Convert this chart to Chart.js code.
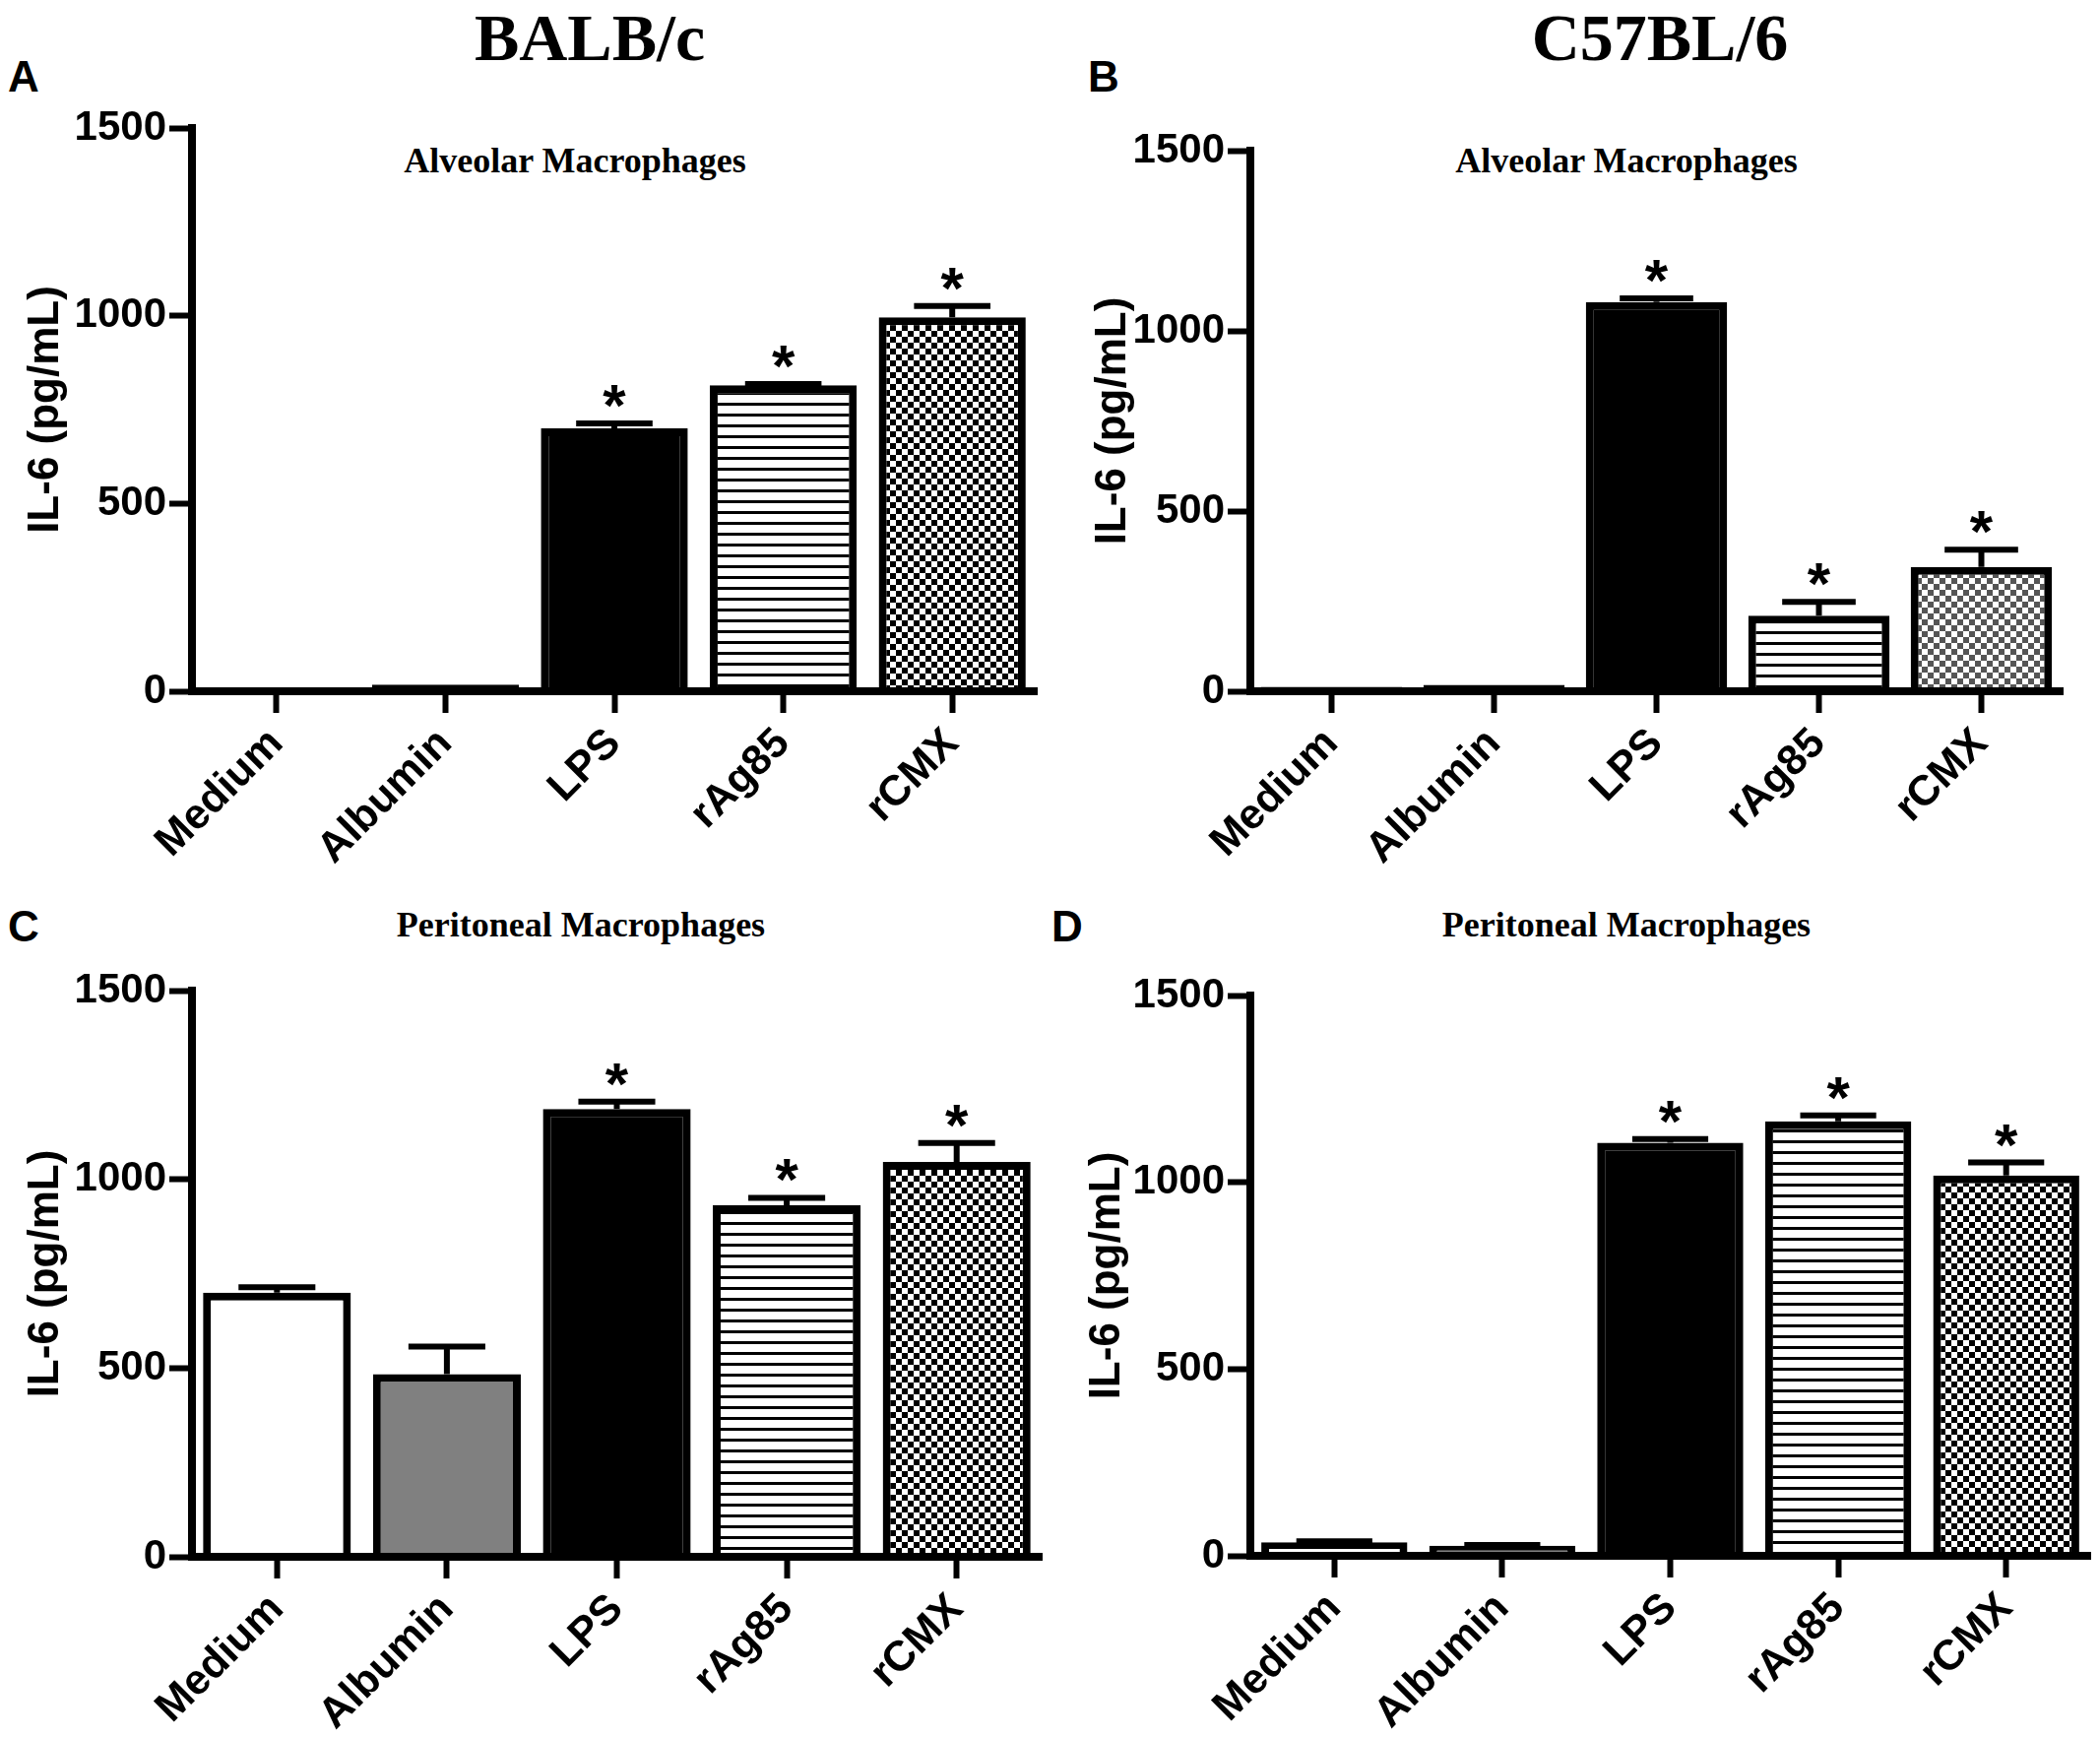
<!DOCTYPE html>
<html>
<head>
<meta charset="utf-8">
<script src="https://cdn.jsdelivr.net/npm/chart.js@4.4.0/dist/chart.umd.min.js"></script>
<style>
  body { margin: 0; background: #fff; width: 2133px; height: 1764px; position: relative; overflow: hidden; }
  .t { position: absolute; color: #000; white-space: nowrap; line-height: 1; transform: translate(-50%, -50%); }
  .serif { font-family: "Liberation Serif", "Times New Roman", serif; font-weight: bold; }
  .letter { position: absolute; color: #000; font-family: "Liberation Sans", Arial, sans-serif; font-weight: bold; font-size: 44px; line-height: 1; transform: translateY(-50%); }
  canvas { position: absolute; }
</style>
</head>
<body>
<div class="t serif" style="left:599px;top:38px;font-size:68px">BALB/c</div>
<div class="t serif" style="left:1686px;top:38px;font-size:68px">C57BL/6</div>
<div class="letter" style="left:8px;top:78px">A</div>
<div class="letter" style="left:1105px;top:78px">B</div>
<div class="letter" style="left:8px;top:941px">C</div>
<div class="letter" style="left:1068px;top:941px">D</div>
<div class="t serif" style="left:584px;top:163px;font-size:36px">Alveolar Macrophages</div>
<div class="t serif" style="left:1652px;top:163px;font-size:36px">Alveolar Macrophages</div>
<div class="t serif" style="left:590px;top:939px;font-size:36px">Peritoneal Macrophages</div>
<div class="t serif" style="left:1652px;top:939px;font-size:36px">Peritoneal Macrophages</div>

<canvas id="chartA"></canvas>
<canvas id="chartB"></canvas>
<canvas id="chartC"></canvas>
<canvas id="chartD"></canvas>

<script>
// data (IL-6, pg/mL, mean and SEM)
const categories = ['Medium', 'Albumin', 'LPS', 'rAg85', 'rCMX'];
const yTicks = [0, 500, 1000, 1500];

const balbAlveolar = [1, 18, 700, 815, 996];
const balbAlveolarSem = [0, 0, 13, 3, 30];
const balbAlveolarStars = [false, false, true, true, true];

const c57Alveolar = [12, 18, 1080, 210, 345];
const c57AlveolarSem = [0, 0, 10, 38, 48];
const c57AlveolarStars = [false, false, true, true, true];

const balbPeritoneal = [700, 484, 1186, 931, 1046];
const balbPeritonealSem = [14, 73, 20, 20, 50];
const balbPeritonealStars = [false, false, true, true, true];

const c57Peritoneal = [36, 27, 1106, 1163, 1018];
const c57PeritonealSem = [3, 2, 10, 16, 35];
const c57PeritonealStars = [false, false, true, true, true];

const SANS = '"Liberation Sans", Arial, sans-serif';

function stripePattern() {
  const c = document.createElement('canvas');
  c.width = 8; c.height = 11;
  const x = c.getContext('2d');
  x.fillStyle = '#fff'; x.fillRect(0, 0, 8, 11);
  x.fillStyle = '#000'; x.fillRect(0, 0, 8, 3);
  return x.createPattern(c, 'repeat');
}

function checkerPattern(col) {
  const c = document.createElement('canvas');
  c.width = 12; c.height = 12;
  const x = c.getContext('2d');
  x.fillStyle = '#fff'; x.fillRect(0, 0, 12, 12);
  x.fillStyle = col;
  x.fillRect(0, 0, 6, 6);
  x.fillRect(6, 6, 6, 6);
  return x.createPattern(c, 'repeat');
}

// error bars (upper only) and significance stars
const errStars = {
  id: 'errStars',
  afterDatasetsDraw(chart) {
    const ds = chart.data.datasets[0];
    const meta = chart.getDatasetMeta(0);
    const y = chart.scales.y;
    const ctx = chart.ctx;
    ctx.save();
    ctx.strokeStyle = '#000';
    ctx.fillStyle = '#000';
    ctx.lineWidth = 6;
    meta.data.forEach((bar, i) => {
      const top = y.getPixelForValue(ds.data[i] + ds.sem[i]);
      const half = bar.width * 0.26;
      if (ds.sem[i] > 0) {
        ctx.beginPath();
        ctx.moveTo(bar.x, bar.y);
        ctx.lineTo(bar.x, top);
        ctx.moveTo(bar.x - half, top);
        ctx.lineTo(bar.x + half, top);
        ctx.stroke();
      }
      if (ds.stars[i]) {
        ctx.font = 'bold 60px ' + SANS;
        ctx.textAlign = 'center';
        ctx.textBaseline = 'alphabetic';
        ctx.fillText('*', bar.x, top + 2);
      }
    });
    ctx.restore();
  }
};

function makePanel(id, g, values, sem, stars, checkCol) {
  const padTop = 40, padRight = 10, xAxisH = 200;
  const cv = document.getElementById(id);
  const w = g.r - g.titleX + 30 + padRight;
  const h = g.b - g.t + padTop + xAxisH;
  cv.width = w; cv.height = h;
  cv.style.left = (g.titleX - 30) + 'px';
  cv.style.top = (g.t - padTop) + 'px';
  const yW = g.l - (g.titleX - 30);

  new Chart(cv.getContext('2d'), {
    type: 'bar',
    data: {
      labels: categories,
      datasets: [{
        data: values,
        sem: sem,
        stars: stars,
        backgroundColor: ['#fff', '#808080', '#000', stripePattern(), checkerPattern(checkCol)],
        borderColor: '#000',
        borderWidth: 8,
        barPercentage: 0.87,
        categoryPercentage: 1
      }]
    },
    options: {
      responsive: false,
      animation: false,
      layout: { padding: { top: padTop, right: padRight, left: 0, bottom: 0 } },
      plugins: { legend: { display: false }, tooltip: { enabled: false } },
      scales: {
        x: {
          offset: true,
          grid: { offset: false, drawOnChartArea: false, drawTicks: true, tickLength: 22, tickWidth: 6, tickColor: '#000' },
          border: { display: true, color: '#000', width: 8, z: 1 },
          ticks: { color: '#000', font: { family: SANS, weight: 'bold', size: 43 }, maxRotation: 45, minRotation: 45, padding: 6 },
          afterFit: s => { s.height = xAxisH; }
        },
        y: {
          min: 0, max: 1500,
          afterBuildTicks: s => { s.ticks = yTicks.map(v => ({ value: v })); },
          grid: { drawOnChartArea: false, drawTicks: true, tickLength: 23, tickWidth: 6, tickColor: '#000' },
          border: { display: true, color: '#000', width: 8, z: 1 },
          ticks: { color: '#000', font: { family: SANS, weight: 'bold', size: 42 }, padding: 3, callback: v => String(v) },
          title: { display: true, text: 'IL-6 (pg/mL)', color: '#000', font: { family: SANS, weight: 'bold', size: 44 } },
          afterFit: s => { s.width = yW; }
        }
      }
    },
    plugins: [errStars]
  });
}

makePanel('chartA', { l: 195, r: 1053, t: 130, b: 702, titleX: 46 }, balbAlveolar, balbAlveolarSem, balbAlveolarStars, '#000');
makePanel('chartB', { l: 1270, r: 2095, t: 153, b: 702, titleX: 1130 }, c57Alveolar, c57AlveolarSem, c57AlveolarStars, '#555');
makePanel('chartC', { l: 195, r: 1058, t: 1006, b: 1581, titleX: 46 }, balbPeritoneal, balbPeritonealSem, balbPeritonealStars, '#000');
makePanel('chartD', { l: 1270, r: 2123, t: 1011, b: 1580, titleX: 1124 }, c57Peritoneal, c57PeritonealSem, c57PeritonealStars, '#000');
</script>
</body>
</html>
